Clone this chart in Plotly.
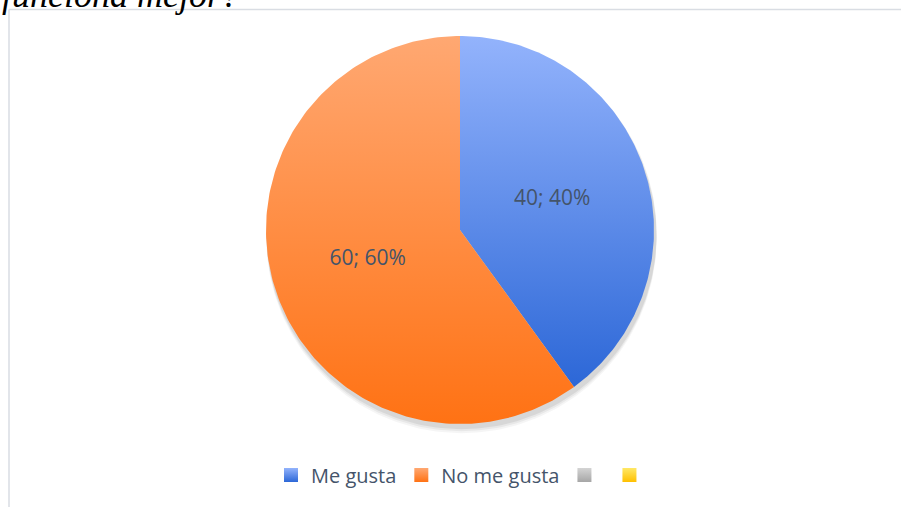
import numpy as np
import plotly.graph_objects as go

# Survey answers
categories = ["Me gusta", "No me gusta", "", ""]
values = [40, 60, 0, 0]

# Gradient colours for each category (top, bottom)
top_colors = ["#93b3fc", "#ffa872", "#d4d4d4", "#ffe866"]
bottom_colors = ["#2c67d7", "#ff7214", "#a6a6a6", "#ffc000"]

title_text = "funciona mejor?"
label_color = "#44546a"

W, H = 901, 507
R_PX = 194.0          # pie radius in pixels
CX_PX, CY_PX = 460.0, 230.0

fig = go.Figure()

# soft drop shadow under the pie
t = np.linspace(0, 2 * np.pi, 241)
for dy, alpha in [(8, 0.04), (6, 0.05), (4, 0.07)]:
    fig.add_trace(go.Scatter(
        x=1.006 * np.cos(t) + 1.5 / R_PX, y=1.006 * np.sin(t) - dy / R_PX,
        mode="lines", line=dict(width=0), fill="toself",
        fillcolor=f"rgba(0,0,0,{alpha})", hoverinfo="skip", showlegend=False))

total = float(sum(values))
start = 90.0
for name, v, ctop, cbot in zip(categories, values, top_colors, bottom_colors):
    if v <= 0:
        continue
    sweep = 360.0 * v / total
    ang = np.radians(np.linspace(start, start - sweep, 200))
    xs = np.concatenate([[0.0], np.cos(ang), [0.0]])
    ys = np.concatenate([[0.0], np.sin(ang), [0.0]])
    fig.add_trace(go.Scatter(
        x=xs, y=ys, mode="lines", line=dict(width=0), fill="toself",
        fillcolor=ctop,
        fillgradient=dict(type="vertical",
                          colorscale=[[0, cbot], [1, ctop]]),
        name=name, hoverinfo="name", showlegend=False))
    mid = np.radians(start - sweep / 2)
    pct = round(100 * v / total)
    fig.add_trace(go.Scatter(
        x=[0.5 * np.cos(mid)], y=[0.5 * np.sin(mid)], mode="text",
        text=[f"{v}; {pct}%"],
        textfont=dict(family="Open Sans", size=21, color=label_color),
        hoverinfo="skip", showlegend=False))
    start -= sweep

# legend entries, one per category
for name, ctop, cbot in zip(categories, top_colors, bottom_colors):
    fig.add_trace(go.Scatter(
        x=[None], y=[None], mode="markers", name=name,
        marker=dict(symbol="square", size=14, color=ctop,
                    gradient=dict(type="vertical", color=cbot)),
        showlegend=True))

fig.update_xaxes(visible=False, range=[-CX_PX / R_PX, (W - CX_PX) / R_PX],
                 fixedrange=True)
fig.update_yaxes(visible=False, range=[-(H - CY_PX) / R_PX, CY_PX / R_PX],
                 fixedrange=True)

fig.update_layout(
    width=W, height=H,
    margin=dict(l=0, r=0, t=0, b=0),
    paper_bgcolor="white", plot_bgcolor="white",
    showlegend=True,
    legend=dict(orientation="h", x=463 / W, xanchor="center",
                y=1 - 475 / H, yanchor="middle",
                font=dict(family="Open Sans", size=20, color=label_color),
                bgcolor="rgba(0,0,0,0)"),
    shapes=[
        dict(type="line", xref="paper", yref="paper",
             x0=9 / W, x1=1, y0=1 - 9.5 / H, y1=1 - 9.5 / H,
             line=dict(color="#d9dde3", width=1.5)),
        dict(type="line", xref="paper", yref="paper",
             x0=9 / W, x1=9 / W, y0=0, y1=1 - 9.5 / H,
             line=dict(color="#d9dde3", width=1.5)),
    ],
    annotations=[
        dict(text=f"<i>{title_text}</i>", xref="paper", yref="paper",
             x=0, xanchor="left", y=1 - 17 / H, yanchor="bottom",
             showarrow=False,
             font=dict(family="Liberation Serif", size=36, color="black")),
    ],
)

fig.write_html("out.html")
